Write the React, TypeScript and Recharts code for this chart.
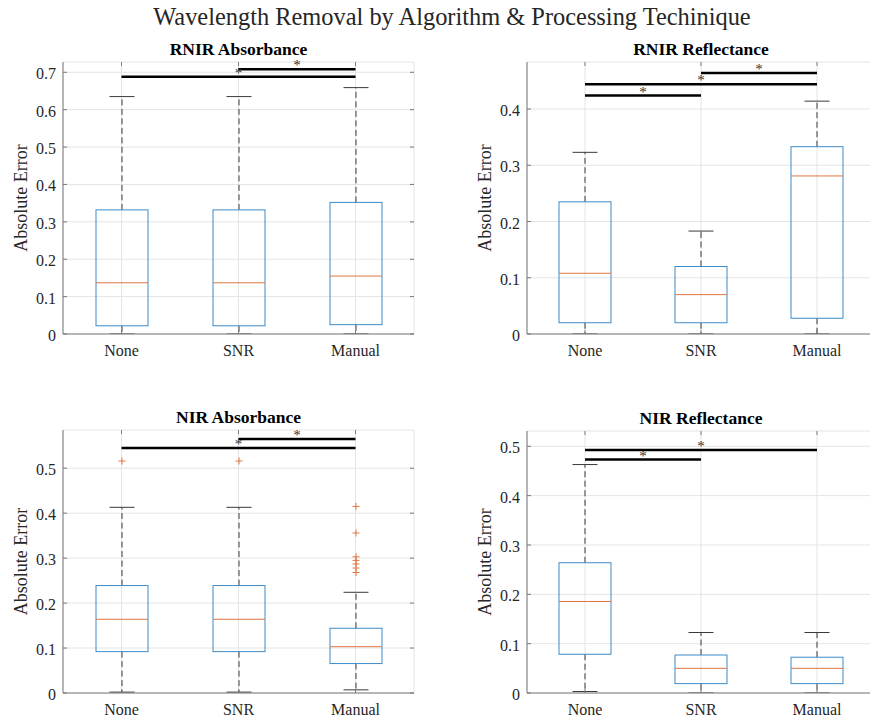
import React from 'react';
import { ComposedChart, Bar, XAxis, YAxis, CartesianGrid, ReferenceLine } from 'recharts';

const FONT = "'Liberation Serif', 'Times New Roman', serif";
const TEXT = '#262626';
const FRAME = '#7a7a7a';
const GRID = '#e4e4e4';
const BOX = '#3d8cc8';
const MEDIAN = '#e07640';
const WHISKER = '#3a3a3a';

const categories = ['None', 'SNR', 'Manual'];

// RNIR Absorbance
const rnirAbsLow = [0, 0, 0];
const rnirAbsQ1 = [0.022, 0.022, 0.025];
const rnirAbsMed = [0.137, 0.137, 0.155];
const rnirAbsQ3 = [0.332, 0.332, 0.352];
const rnirAbsHigh = [0.635, 0.635, 0.659];
const rnirAbsOut: number[][] = [[], [], []];
const rnirAbsTicks = [0, 0.1, 0.2, 0.3, 0.4, 0.5, 0.6, 0.7];
const rnirAbsSig = [
  { from: 'None', to: 'Manual', y: 0.688 },
  { from: 'SNR', to: 'Manual', y: 0.708 },
];

// RNIR Reflectance
const rnirRefLow = [0, 0, 0];
const rnirRefQ1 = [0.02, 0.02, 0.028];
const rnirRefMed = [0.108, 0.07, 0.281];
const rnirRefQ3 = [0.235, 0.12, 0.333];
const rnirRefHigh = [0.323, 0.183, 0.414];
const rnirRefOut: number[][] = [[], [], []];
const rnirRefTicks = [0, 0.1, 0.2, 0.3, 0.4];
const rnirRefSig = [
  { from: 'None', to: 'SNR', y: 0.424 },
  { from: 'None', to: 'Manual', y: 0.444 },
  { from: 'SNR', to: 'Manual', y: 0.464 },
];

// NIR Absorbance
const nirAbsLow = [0.002, 0.002, 0.007];
const nirAbsQ1 = [0.092, 0.092, 0.0655];
const nirAbsMed = [0.164, 0.164, 0.103];
const nirAbsQ3 = [0.239, 0.239, 0.144];
const nirAbsHigh = [0.413, 0.413, 0.224];
const nirAbsOut: number[][] = [[0.516], [0.516], [0.415, 0.356, 0.303, 0.295, 0.287, 0.278, 0.268]];
const nirAbsTicks = [0, 0.1, 0.2, 0.3, 0.4, 0.5];
const nirAbsSig = [
  { from: 'None', to: 'Manual', y: 0.545 },
  { from: 'SNR', to: 'Manual', y: 0.565 },
];

// NIR Reflectance
const nirRefLow = [0.003, 0, 0];
const nirRefQ1 = [0.0785, 0.019, 0.019];
const nirRefMed = [0.1855, 0.05, 0.05];
const nirRefQ3 = [0.264, 0.077, 0.0725];
const nirRefHigh = [0.463, 0.1226, 0.1226];
const nirRefOut: number[][] = [[], [], []];
const nirRefTicks = [0, 0.1, 0.2, 0.3, 0.4, 0.5];
const nirRefSig = [
  { from: 'None', to: 'SNR', y: 0.473 },
  { from: 'None', to: 'Manual', y: 0.4925 },
];

const mainTitle = 'Wavelength Removal by Algorithm & Processing Techinique';
const yLabel = 'Absolute Error';

function buildRows(low: number[], q1: number[], med: number[], q3: number[], high: number[], out: number[][]) {
  return categories.map((name, i) => ({
    name,
    range: [low[i], high[i]],
    lo: low[i],
    q1: q1[i],
    med: med[i],
    q3: q3[i],
    hi: high[i],
    out: out[i],
  }));
}

const BoxShape = (props: any) => {
  const { x, y, width, height, payload } = props;
  if (!payload) return null;
  const { lo, hi, q1, med, q3, out } = payload;
  const top = Math.min(y, y + height);
  const bottom = Math.max(y, y + height);
  const py = (v: number) => bottom - ((bottom - top) * (v - lo)) / (hi - lo);
  const cx = x + width / 2;
  const cap = 12.5;
  const hw = width / 2;
  return (
    <g>
      <line x1={cx} x2={cx} y1={py(q3)} y2={py(hi)} stroke={WHISKER} strokeWidth={1} strokeDasharray="6 3.5" />
      <line x1={cx} x2={cx} y1={py(q1)} y2={py(lo)} stroke={WHISKER} strokeWidth={1} strokeDasharray="6 3.5" />
      <line x1={cx - cap} x2={cx + cap} y1={py(hi)} y2={py(hi)} stroke={WHISKER} strokeWidth={1} />
      <line x1={cx - cap} x2={cx + cap} y1={py(lo)} y2={py(lo)} stroke={WHISKER} strokeWidth={1} />
      <rect x={cx - hw} y={py(q3)} width={width} height={py(q1) - py(q3)} fill="none" stroke={BOX} strokeWidth={1} />
      <line x1={cx - hw} x2={cx + hw} y1={py(med)} y2={py(med)} stroke={MEDIAN} strokeWidth={1} />
      {(out as number[]).map((v, k) => (
        <g key={k}>
          <line x1={cx - 3.5} x2={cx + 3.5} y1={py(v)} y2={py(v)} stroke={MEDIAN} strokeWidth={1} />
          <line x1={cx} x2={cx} y1={py(v) - 3.5} y2={py(v) + 3.5} stroke={MEDIAN} strokeWidth={1} />
        </g>
      ))}
    </g>
  );
};

const fmt = (v: number) => (v === 0 ? '0' : v.toFixed(1));

type PanelProps = {
  rows: any[];
  ticks: number[];
  max: number;
  sig: { from: string; to: string; y: number }[];
  left: number;
  top: number;
  w: number;
  h: number;
};

const ML = 60;
const MT = 10;
const MR = 10;
const XH = 40;
const Y_TM = 7;
const X_TM = 10;

function Panel({ rows, ticks, max, sig, left, top, w, h }: PanelProps) {
  const YTick = (p: any) => {
    const { x, y, payload } = p;
    const ax = x + Y_TM;
    return (
      <g>
        <line x1={ax} x2={ax + 4} y1={y} y2={y} stroke={FRAME} />
        <line x1={ax + w} x2={ax + w - 4} y1={y} y2={y} stroke={FRAME} />
        <text x={x} y={y} dy={7} textAnchor="end" fontFamily={FONT} fontSize={16} fill={TEXT}>
          {fmt(payload.value)}
        </text>
      </g>
    );
  };
  const XTick = (p: any) => {
    const { x, y, payload } = p;
    const ay = y - X_TM;
    return (
      <g>
        <line x1={x} x2={x} y1={ay} y2={ay - 4} stroke={FRAME} />
        <line x1={x} x2={x} y1={ay - h} y2={ay - h + 4} stroke={FRAME} />
        <text x={x} y={y} dy={12} textAnchor="middle" fontFamily={FONT} fontSize={16} fill={TEXT}>
          {payload.value}
        </text>
      </g>
    );
  };
  return (
    <div style={{ position: 'absolute', left: left - ML, top: top - MT }}>
      <ComposedChart
        width={w + ML + MR}
        height={h + MT + XH}
        data={rows}
        margin={{ top: MT, right: MR, bottom: 0, left: 0 }}
      >
        <CartesianGrid stroke={GRID} />
        <XAxis
          dataKey="name"
          type="category"
          height={XH}
          tickSize={0}
          tickMargin={X_TM}
          tickLine={false}
          interval={0}
          tick={(p: any) => <XTick {...p} />}
          axisLine={{ stroke: FRAME }}
        />
        <XAxis
          xAxisId="top"
          orientation="top"
          dataKey="name"
          type="category"
          height={0}
          tick={false}
          tickLine={false}
          axisLine={{ stroke: FRAME }}
        />
        <YAxis
          type="number"
          domain={[0, max]}
          ticks={ticks}
          width={ML}
          tickSize={0}
          tickMargin={Y_TM}
          tickLine={false}
          interval={0}
          allowDataOverflow
          tick={(p: any) => <YTick {...p} />}
          axisLine={{ stroke: FRAME }}
        />
        <YAxis
          yAxisId="right"
          orientation="right"
          type="number"
          domain={[0, max]}
          width={0}
          tick={false}
          tickLine={false}
          allowDataOverflow
          axisLine={{ stroke: FRAME }}
        />
        <Bar dataKey="range" barSize={52} shape={BoxShape} isAnimationActive={false} />
        {sig.map((s, i) => (
          <ReferenceLine
            key={i}
            segment={[
              { x: s.from, y: s.y },
              { x: s.to, y: s.y },
            ]}
            stroke="#000"
            strokeWidth={2.5}
            ifOverflow="visible"
            label={{ value: '*', position: 'top', offset: -1, fontSize: 15, fill: '#333', fontFamily: FONT }}
          />
        ))}
      </ComposedChart>
    </div>
  );
}

const panels = [
  { title: 'RNIR Absorbance', rows: buildRows(rnirAbsLow, rnirAbsQ1, rnirAbsMed, rnirAbsQ3, rnirAbsHigh, rnirAbsOut), ticks: rnirAbsTicks, max: 0.7275, sig: rnirAbsSig, left: 63, top: 62, w: 351, h: 272 },
  { title: 'RNIR Reflectance', rows: buildRows(rnirRefLow, rnirRefQ1, rnirRefMed, rnirRefQ3, rnirRefHigh, rnirRefOut), ticks: rnirRefTicks, max: 0.4836, sig: rnirRefSig, left: 527, top: 62, w: 348, h: 272 },
  { title: 'NIR Absorbance', rows: buildRows(nirAbsLow, nirAbsQ1, nirAbsMed, nirAbsQ3, nirAbsHigh, nirAbsOut), ticks: nirAbsTicks, max: 0.585, sig: nirAbsSig, left: 63, top: 430, w: 351, h: 263 },
  { title: 'NIR Reflectance', rows: buildRows(nirRefLow, nirRefQ1, nirRefMed, nirRefQ3, nirRefHigh, nirRefOut), ticks: nirRefTicks, max: 0.531, sig: nirRefSig, left: 527, top: 431, w: 348, h: 262 },
];

export default function App() {
  return (
    <div style={{ position: 'fixed', left: 0, top: 0, width: 870, height: 721, overflow: 'hidden', background: '#fff' }}>
      {panels.map((p, i) => (
        <Panel key={i} rows={p.rows} ticks={p.ticks} max={p.max} sig={p.sig} left={p.left} top={p.top} w={p.w} h={p.h} />
      ))}
      <svg width={870} height={721} style={{ position: 'absolute', left: 0, top: 0, pointerEvents: 'none' }}>
        <text x={452} y={25} textAnchor="middle" fontFamily={FONT} fontSize={24.4} fill={TEXT}>
          {mainTitle}
        </text>
        {panels.map((p, i) => (
          <g key={i}>
            <text x={p.left + p.w / 2} y={p.top - 7} textAnchor="middle" fontFamily={FONT} fontSize={17.5} fontWeight="bold" fill="#000">
              {p.title}
            </text>
            <text
              transform={`translate(${p.left - 36}, ${p.top + p.h / 2}) rotate(-90)`}
              textAnchor="middle"
              fontFamily={FONT}
              fontSize={18}
              fill={TEXT}
            >
              {yLabel}
            </text>
          </g>
        ))}
      </svg>
    </div>
  );
}
